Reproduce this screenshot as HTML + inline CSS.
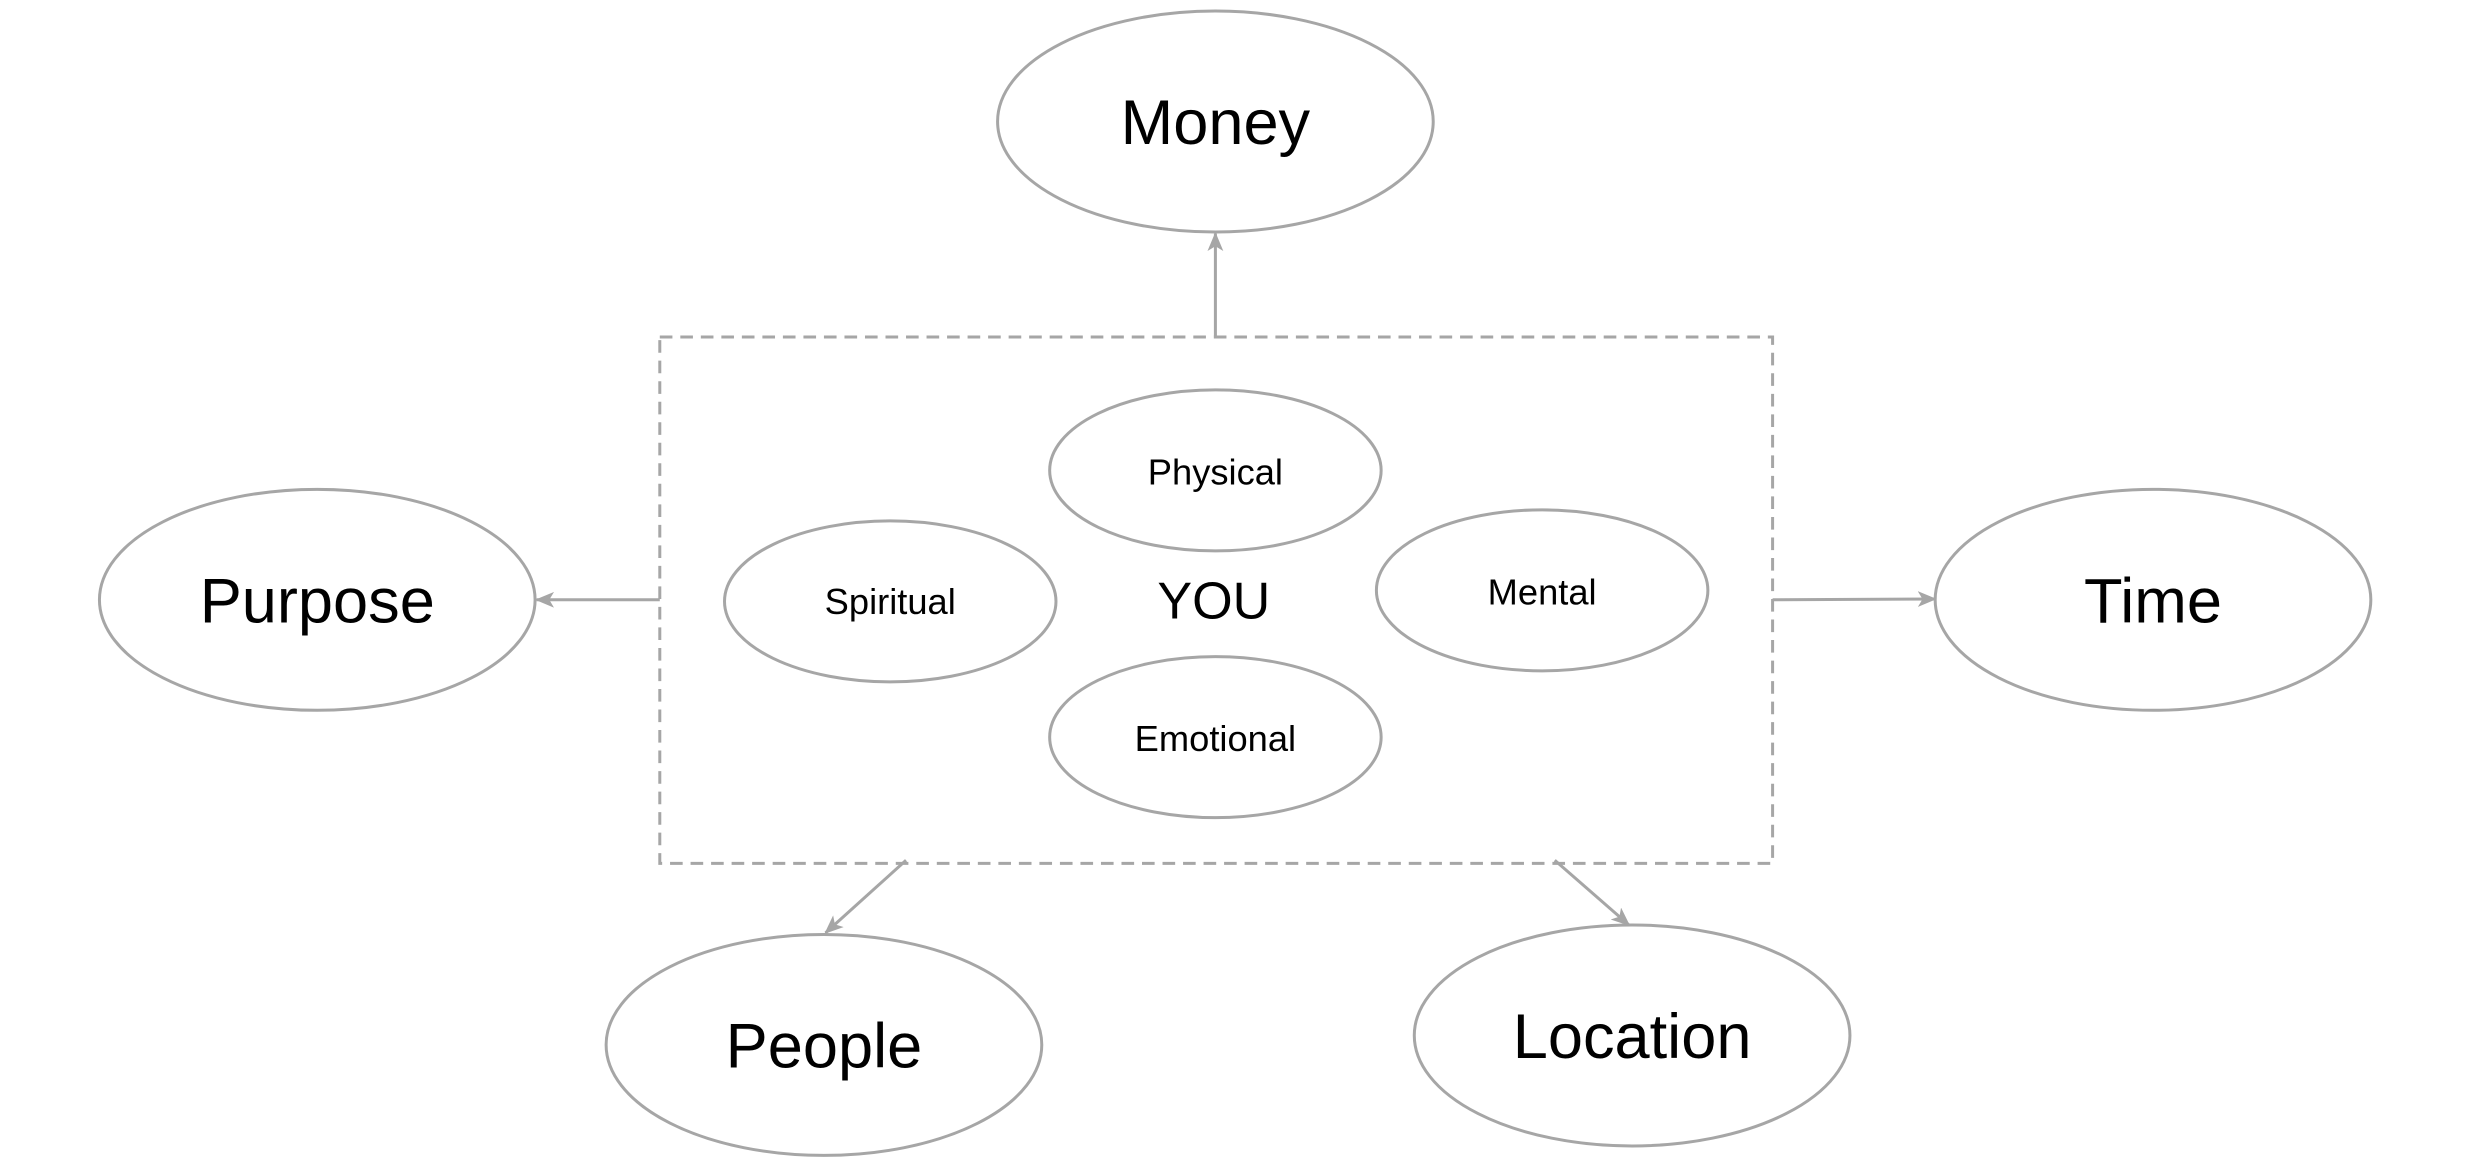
<!DOCTYPE html>
<html><head><meta charset="utf-8"><style>
html,body{margin:0;padding:0;background:#fff;}
svg{display:block;}
text{font-family:"Liberation Sans",sans-serif;fill:#000;text-anchor:middle;dominant-baseline:central;}
</style></head><body>
<svg width="2475" height="1157" viewBox="0 0 1568 733" preserveAspectRatio="none">
<defs>
<marker id="a" viewBox="0 0 12 10" refX="11" refY="5" markerWidth="12" markerHeight="10" markerUnits="userSpaceOnUse" orient="auto">
<path d="M0,0 L12,5 L0,10 L3,5 Z" fill="#a6a6a6"/>
</marker>
</defs>
<g fill="none" stroke="#a6a6a6" stroke-width="1.9">
<rect x="418" y="213.5" width="705" height="333.5" stroke-dasharray="8,5"/>
<ellipse cx="770" cy="77" rx="138" ry="70"/>
<ellipse cx="201" cy="380" rx="138" ry="70"/>
<ellipse cx="1364" cy="380" rx="138" ry="70"/>
<ellipse cx="522" cy="662" rx="138" ry="70"/>
<ellipse cx="1034" cy="656" rx="138" ry="70"/>
<ellipse cx="770" cy="298" rx="105" ry="51"/>
<ellipse cx="564" cy="381" rx="105" ry="51"/>
<ellipse cx="977" cy="374" rx="105" ry="51"/>
<ellipse cx="770" cy="467" rx="105" ry="51"/>
<line x1="770" y1="213" x2="770" y2="148" marker-end="url(#a)"/>
<line x1="418" y1="380" x2="340" y2="380" marker-end="url(#a)"/>
<line x1="1123" y1="380" x2="1226" y2="379.5" marker-end="url(#a)"/>
<line x1="574" y1="545" x2="523" y2="591" marker-end="url(#a)"/>
<line x1="985" y1="545" x2="1032" y2="586" marker-end="url(#a)"/>
</g>
<g font-size="40">
<text x="770" y="78">Money</text>
<text x="201" y="381">Purpose</text>
<text x="1364" y="381">Time</text>
<text x="522" y="663">People</text>
<text x="1034" y="657">Location</text>
</g>
<g font-size="23">
<text x="770" y="299">Physical</text>
<text x="564" y="381">Spiritual</text>
<text x="977" y="375">Mental</text>
<text x="770" y="468">Emotional</text>
</g>
<text x="769" y="381" font-size="33">YOU</text>
</svg>
</body></html>
